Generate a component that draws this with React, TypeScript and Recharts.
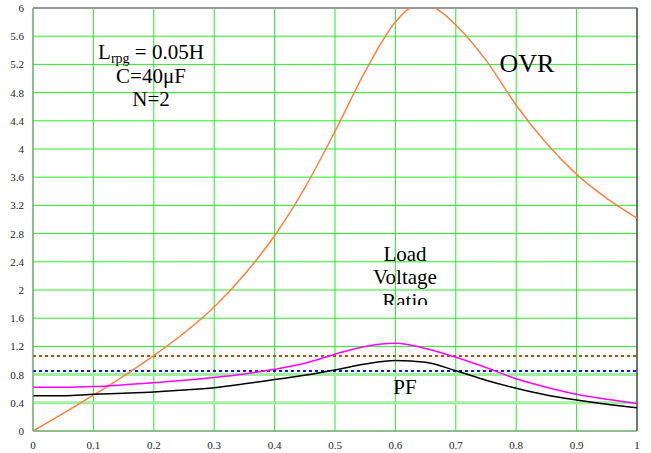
import React from 'react'
import { LineChart, Line, XAxis, YAxis, CartesianGrid, ReferenceLine } from 'recharts'

// x positions (relative)
const xSteps = [0, 0.05, 0.1, 0.15, 0.2, 0.25, 0.3, 0.35, 0.4, 0.45, 0.5, 0.55, 0.6, 0.65, 0.7, 0.75, 0.8, 0.85, 0.9, 0.95, 1]
const ovrX = [0, 0.05, 0.1, 0.15, 0.2, 0.25, 0.3, 0.35, 0.4, 0.45, 0.5, 0.55, 0.6, 0.625, 0.65, 0.675, 0.7, 0.75, 0.8, 0.85, 0.9, 0.95, 1]

// series values
const ovr = [0, 0.25, 0.51, 0.78, 1.07, 1.39, 1.76, 2.22, 2.77, 3.45, 4.25, 5.1, 5.8, 6.0, 6.04, 5.95, 5.76, 5.26, 4.62, 4.08, 3.64, 3.3, 3.02]
const loadVoltage = [0.62, 0.62, 0.63, 0.655, 0.685, 0.72, 0.76, 0.81, 0.875, 0.96, 1.09, 1.2, 1.245, 1.17, 1.045, 0.9, 0.74, 0.62, 0.52, 0.45, 0.39]
const pf = [0.5, 0.5, 0.52, 0.535, 0.553, 0.58, 0.615, 0.67, 0.73, 0.79, 0.865, 0.95, 1.0, 0.975, 0.855, 0.72, 0.605, 0.51, 0.44, 0.38, 0.33]

// horizontal markers
const upperLimit = 1.064
const lowerLimit = 0.852
const paleLines = [0.4, 0.8]

const xTicks = [0, 0.1, 0.2, 0.3, 0.4, 0.5, 0.6, 0.7, 0.8, 0.9, 1]
const yTicks = [0, 0.4, 0.8, 1.2, 1.6, 2, 2.4, 2.8, 3.2, 3.6, 4, 4.4, 4.8, 5.2, 5.6, 6]

const ovrData = ovrX.map((x, i) => ({ x, y: ovr[i] }))
const loadData = xSteps.map((x, i) => ({ x, y: loadVoltage[i] }))
const pfData = xSteps.map((x, i) => ({ x, y: pf[i] }))

const serif = 'Liberation Serif, DejaVu Serif, serif'
const tickStyle = { fontFamily: serif, fontSize: 11, fill: '#222', style: { fontFamily: serif } }

export default function App() {
  return (
    <div style={{ position: 'absolute', left: 0, top: 0, width: 651, height: 453, background: '#fff', fontFamily: serif }}>
      <LineChart width={651} height={453} margin={{ top: 8, right: 14, bottom: 0, left: 0 }} style={{ fontFamily: serif }}>
        <CartesianGrid stroke="#22ee22" strokeWidth={1} horizontalValues={yTicks} verticalValues={xTicks} />
        {paleLines.map((v) => (
          <ReferenceLine key={v} y={v} stroke="#a0f0a0" strokeWidth={3} />
        ))}
        <XAxis
          type="number"
          dataKey="x"
          domain={[0, 1]}
          ticks={xTicks}
          height={22}
          stroke="#888"
          tickLine={false}
          tick={tickStyle}
          tickMargin={4}
        />
        <YAxis
          type="number"
          dataKey="y"
          domain={[0, 6]}
          ticks={yTicks}
          allowDataOverflow
          width={33}
          stroke="#888"
          tickLine={false}
          tick={tickStyle}
          tickMargin={3}
        />
        <ReferenceLine y={6} stroke="#999" strokeWidth={2} />
        <ReferenceLine x={1} stroke="#555" strokeWidth={1.5} />
        <ReferenceLine y={upperLimit} stroke="#b0500a" strokeWidth={2} strokeDasharray="3 3" />
        <ReferenceLine y={lowerLimit} stroke="#1010ff" strokeWidth={2} strokeDasharray="3 3" />
        <Line data={ovrData} dataKey="y" type="monotone" stroke="#ff7f3f" strokeWidth={1.5} dot={false} isAnimationActive={false} />
        <Line data={loadData} dataKey="y" type="monotone" stroke="#ff00ff" strokeWidth={1.5} dot={false} isAnimationActive={false} />
        <Line data={pfData} dataKey="y" type="monotone" stroke="#000" strokeWidth={1.5} dot={false} isAnimationActive={false} />
      </LineChart>
      <svg width={651} height={453} style={{ position: 'absolute', left: 0, top: 0, pointerEvents: 'none', fontFamily: serif }}>
        <defs>
          <clipPath id="ratioClip">
            <rect x={0} y={0} width={651} height={305} />
          </clipPath>
        </defs>
        <g fill="#000" textAnchor="middle" style={{ fontFamily: serif }}>
          <text x={151} y={59} fontSize={21}>
            L<tspan fontSize={14} dy={4}>rpg</tspan>
            <tspan dy={-4}> = 0.05H</tspan>
          </text>
          <text x={151} y={83} fontSize={21}>C=40μF</text>
          <text x={151} y={106} fontSize={21}>N=2</text>
          <text x={527} y={72} fontSize={26}>OVR</text>
          <g clipPath="url(#ratioClip)" fontSize={21}>
            <text x={405} y={261}>Load</text>
            <text x={405} y={284}>Voltage</text>
            <text x={405} y={308}>Ratio</text>
          </g>
          <text x={405} y={394} fontSize={21}>PF</text>
        </g>
      </svg>
    </div>
  )
}
